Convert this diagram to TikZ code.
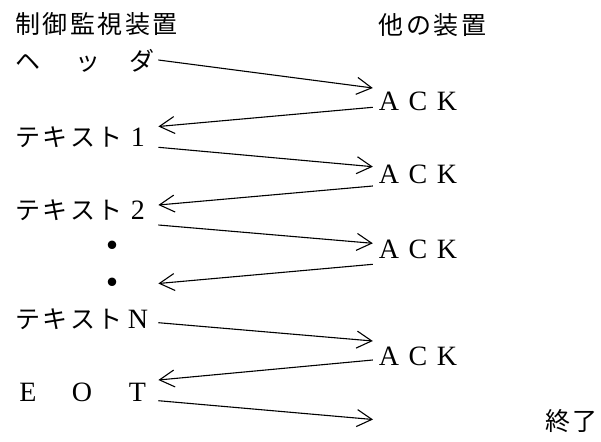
\documentclass[tikz,border=0pt]{standalone}
\usepackage{fontspec}
\setmainfont{Liberation Serif}
\newfontfamily\jpfont{Noto Sans CJK JP}
\usetikzlibrary{arrows.meta}
\newcommand\jc[1]{\makebox[27.5pt]{\jpfont\fontsize{25}{30}\selectfont #1}}
\newcommand\lc[1]{\makebox[27.5pt]{#1}}
\newcommand\lrow[1]{\makebox[144pt][l]{#1}}
\newcommand\bigdot{\makebox[27.5pt]{\raisebox{-5.5pt}{\jpfont\fontsize{40}{40}\selectfont ・}}}
\newcommand\acks{\makebox[29pt]{A}\makebox[29pt]{C}\makebox[29pt]{K}}
\begin{document}
\begin{tikzpicture}[x=1pt,y=-1pt,
  lbl/.style={inner sep=0pt, text height=20pt, text depth=1.5pt, font=\fontsize{28}{32}\selectfont},
  msg/.style={line width=1.1pt, -{Straight Barb[length=15pt,width=17pt]}}]
\useasboundingbox (0,0) rectangle (601,441);
% headings
\node[lbl,anchor=west] (src) at (14,24) {\jc{制}\jc{御}\jc{監}\jc{視}\jc{装}\jc{置}};
\node[lbl,anchor=west] (dst) at (377.5,25) {\jc{他}\jc{の}\jc{装}\jc{置}};
% left column
\node[lbl,anchor=west] (hdr) at (14,61) {\lrow{\jc{ヘ}\hspace{32.25pt}\jc{ッ}\hspace{26.5pt}\jc{ダ}}};
\node[lbl,anchor=west] (t1) at (14,137.5) {\lrow{\jc{テ}\jc{キ}\jc{ス}\jc{ト}\lc{1}}};
\node[lbl,anchor=west] (t2) at (14,210) {\lrow{\jc{テ}\jc{キ}\jc{ス}\jc{ト}\lc{2}}};
\node[lbl,anchor=west] (d1) at (14,246) {\lrow{\hspace{84.95pt}\bigdot}};
\node[lbl,anchor=west] (d2) at (14,283) {\lrow{\hspace{84.95pt}\bigdot}};
\node[lbl,anchor=west] (tn) at (14,319) {\lrow{\jc{テ}\jc{キ}\jc{ス}\jc{ト}\lc{N}}};
\node[lbl,anchor=west] (eot) at (14,392) {\lrow{\lc{E}\hspace{26.45pt}\lc{O}\hspace{28.1pt}\lc{T}}};
% right column
\node[lbl] (ack1) at (418,101) {\acks};
\node[lbl] (ack2) at (418,174.7) {\acks};
\node[lbl] (ack3) at (418,249) {\acks};
\node[lbl] (ack4) at (418,356) {\acks};
\node[lbl,anchor=west] (fin) at (544,421) {\jc{終}\jc{了}};
\coordinate (e9) at (373,419.5);
% messages
\draw[msg] ([shift={(0,-1)}]hdr.east) -- ([shift={(-1.5,-13)}]ack1.west);
\draw[msg] ([shift={(-1.5,6.3)}]ack1.west) -- ([shift={(0,-11)}]t1.east);
\draw[msg] ([shift={(0,9.8)}]t1.east) -- ([shift={(-1.5,-8)}]ack2.west);
\draw[msg] ([shift={(-1.5,11.3)}]ack2.west) -- ([shift={(0,-5)}]t2.east);
\draw[msg] ([shift={(0,15)}]t2.east) -- ([shift={(-1.5,-5.7)}]ack3.west);
\draw[msg] ([shift={(-1.5,15.3)}]ack3.west) -- ([shift={(0,0.5)}]d2.east);
\draw[msg] ([shift={(0,3.7)}]tn.east) -- ([shift={(-1.5,-15)}]ack4.west);
\draw[msg] ([shift={(-1.5,4)}]ack4.west) -- ([shift={(0,-12)}]eot.east);
\draw[msg] ([shift={(0,8.7)}]eot.east) -- (e9);
\end{tikzpicture}
\end{document}
